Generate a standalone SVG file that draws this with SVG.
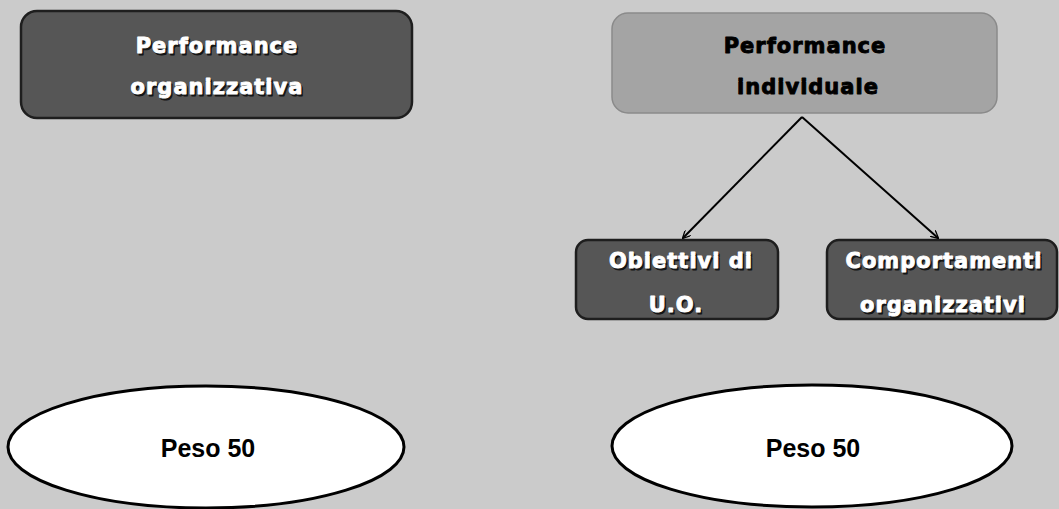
<svg xmlns="http://www.w3.org/2000/svg" width="1059" height="509" viewBox="0 0 1059 509">
  <style>
    .dark { fill: #565656; stroke: #1e1e1e; stroke-width: 2.5; }
    .light { fill: #a4a4a4; stroke: #8a8a8a; stroke-width: 1.5; }
    .oval { fill: #ffffff; stroke: #000000; stroke-width: 3; }
    .lbl { font-family: "DejaVu Sans", "Liberation Sans", sans-serif; font-weight: bold; font-size: 21px; text-anchor: middle; letter-spacing: 1px; stroke-width: 0.9px; stroke-linejoin: round; }
    .inv { fill: #ffffff; stroke: #ffffff; }
    .ink { fill: #000000; stroke: #000000; }
    .shadow { fill: #141414; stroke: #141414; }
    .peso { font-family: "Liberation Sans", Arial, sans-serif; font-weight: bold; font-size: 25px; text-anchor: middle; fill: #000000; }
    .conn { stroke: #000000; stroke-width: 2; fill: none; marker-end: url(#head); }
  </style>
  <defs>
    <marker id="head" viewBox="0 0 10 10" refX="9" refY="5" markerWidth="8" markerHeight="8" markerUnits="userSpaceOnUse" orient="auto">
      <path d="M0,0 L10,5 L0,10" fill="none" stroke="#000" stroke-width="1.6"/>
    </marker>
  </defs>

  <!-- paper background -->
  <rect x="0" y="0" width="1059" height="509" fill="#cbcbcb"/>

  <!-- organisational performance -->
  <g id="perf-organizzativa">
    <rect class="dark" x="21" y="11" width="391" height="107" rx="16"/>
    <text class="lbl shadow" x="218.5" y="54.5">Performance</text>
    <text class="lbl inv" x="217" y="53">Performance</text>
    <text class="lbl shadow" x="218.5" y="95.5">organizzativa</text>
    <text class="lbl inv" x="217" y="94">organizzativa</text>
  </g>

  <!-- individual performance -->
  <g id="perf-individuale">
    <rect class="light" x="612" y="13" width="385" height="100" rx="16"/>
    <text class="lbl ink" x="805" y="53">Performance</text>
    <text class="lbl ink" x="808" y="94">individuale</text>
  </g>

  <g id="obiettivi">
    <rect class="dark" x="576" y="240" width="202" height="79" rx="12"/>
    <text class="lbl shadow" x="682.5" y="269.5">Obiettivi di</text>
    <text class="lbl inv" x="681" y="268">Obiettivi di</text>
    <text class="lbl shadow" x="677.5" y="313.5">U.O.</text>
    <text class="lbl inv" x="676" y="312">U.O.</text>
  </g>

  <g id="comportamenti">
    <rect class="dark" x="827" y="240" width="230" height="79" rx="12"/>
    <text class="lbl shadow" x="945.5" y="269.5">Comportamenti</text>
    <text class="lbl inv" x="944" y="268">Comportamenti</text>
    <text class="lbl shadow" x="944.5" y="313.5">organizzativi</text>
    <text class="lbl inv" x="943" y="312">organizzativi</text>
  </g>

  <g id="peso-organizzativa">
    <ellipse class="oval" cx="206" cy="447" rx="198" ry="61"/>
    <text class="peso" x="208" y="457">Peso 50</text>
  </g>

  <g id="peso-individuale">
    <ellipse class="oval" cx="812" cy="446" rx="200" ry="61"/>
    <text class="peso" x="813" y="457">Peso 50</text>
  </g>

  <!-- connectors -->
  <g id="connectors">
    <line class="conn" x1="802" y1="117" x2="683" y2="238"/>
    <line class="conn" x1="802" y1="117" x2="938" y2="238"/>
  </g>
</svg>
